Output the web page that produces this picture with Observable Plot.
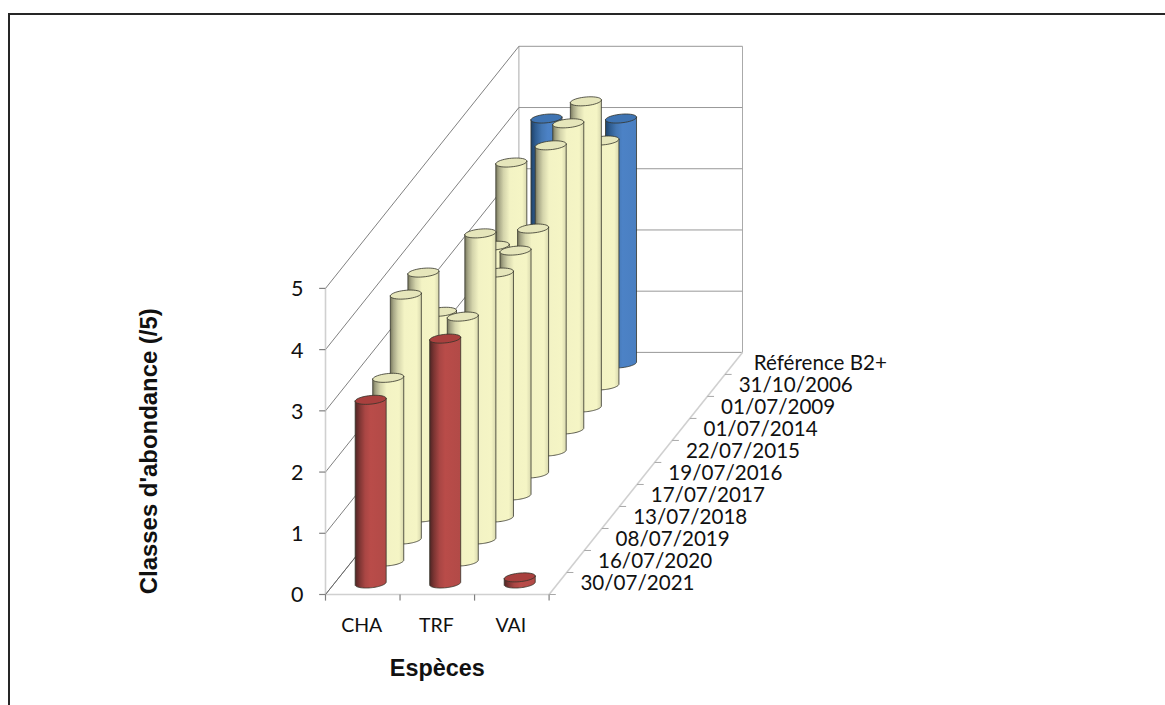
<!DOCTYPE html>
<html lang="fr">
<head>
<meta charset="utf-8">
<title>Classes d'abondance</title>
<script src="https://cdn.jsdelivr.net/npm/d3@7"></script>
<script src="https://cdn.jsdelivr.net/npm/@observablehq/plot@0.6"></script>
<style>
  html, body { margin: 0; padding: 0; background: #fff; overflow: hidden; }
  #chart { position: relative; width: 1165px; height: 705px; overflow: hidden; }
  #chart svg { display: block; position: absolute; left: 0; top: 0; background: transparent; }
  #border { position: absolute; left: 8px; top: 13px; width: 1300px; height: 900px; border: 2px solid #262626; box-sizing: border-box; }
</style>
</head>
<body>
<div id="chart"><div id="border"></div></div>
<script>
const species = ["CHA", "TRF", "VAI"];
// front row first
const dates = ["30/07/2021", "16/07/2020", "08/07/2019", "13/07/2018", "17/07/2017", "19/07/2016",
               "22/07/2015", "01/07/2014", "01/07/2009", "31/10/2006", "Référence B2+"];
const chaValues = [3, 3, 4, 4, 3, 0, 0, 3, 4, 0, 4];
const trfValues = [4, 4, 5, 4, 4, 4, 5, 5, 5, 4, 4];
const vaiValues = [0.1, 0, 0, 0, 0, 0, 0, 0, 0, 0, 0];
const valueTicks = [0, 1, 2, 3, 4, 5];

// Oblique projection: one depth step expressed in species units and in value units
const depthX = 0.2359, depthY = 0.3595;
const nD = dates.length, nS = species.length;
const X = (s, d) => s + d * depthX;
const Y = (v, d) => v + d * depthY;

// Ellipse axes of a cylinder cap, in scale units
const ax = 0.208, ay = 0.021, bx = 0.006, by = 0.071;
const gap = 0.488;
const STEPS = 40;
function capPoint(cx, cy, t) {
  return {x: cx + ax * Math.cos(t) + bx * Math.sin(t), y: cy + ay * Math.cos(t) + by * Math.sin(t)};
}
function capRing(s, d, v) {
  const cx = X(s + gap, d + 0.5), cy = Y(v, d + 0.5);
  return d3.range(STEPS + 1).map(i => capPoint(cx, cy, (i / STEPS) * 2 * Math.PI));
}
function body(s, d, v) {
  const cx = X(s + gap, d + 0.5), y0 = Y(0, d + 0.5), y1 = Y(v, d + 0.5);
  const pts = [capPoint(cx, y1, Math.PI)];
  // lower half of base ellipse from left to right
  for (let i = 0; i <= STEPS; i++) pts.push(capPoint(cx, y0, Math.PI + (i / STEPS) * Math.PI));
  pts.push(capPoint(cx, y1, 2 * Math.PI));
  pts.push(pts[0]);
  return pts;
}

const palette = {
  y: {stops: [[0, "#77775c"], [0.1, "#a6a686"], [0.25, "#d4d4ab"], [0.45, "#f3f3c4"], [0.85, "#f5f5c5"], [1, "#d8d8ae"]], cap: "#e6e6bb"},
  b: {stops: [[0, "#1f4269"], [0.15, "#2f5d91"], [0.35, "#4477b3"], [0.55, "#4c82c6"], [1, "#4a7fc1"]], cap: "#3f74b3"},
  r: {stops: [[0, "#4f2524"], [0.14, "#7d3533"], [0.32, "#a94644"], [0.5, "#b94c49"], [1, "#b24a47"]], cap: "#a9403e"}
};
const defs = () => {
  const g = d3.create("svg:defs");
  for (const [k, p] of Object.entries(palette)) {
    const lg = g.append("linearGradient").attr("id", "grad-" + k).attr("x1", 0).attr("x2", 1).attr("y1", 0).attr("y2", 0);
    for (const [o, c] of p.stops) lg.append("stop").attr("offset", o).attr("stop-color", c);
  }
  return g.node();
};

const colourOf = d => d === nD - 1 ? "b" : d === 0 ? "r" : "y";
const columns = [chaValues, trfValues, vaiValues];
const cylinders = [];
for (let d = nD - 1; d >= 0; d--)
  for (let s = 0; s < nS; s++)
    if (columns[s][d] > 0) cylinders.push({s, d, v: columns[s][d], k: colourOf(d)});

const edge = "#33332a";
const cylMarks = cylinders.flatMap(c => [
  Plot.line(body(c.s, c.d, c.v), {x: "x", y: "y", fill: `url(#grad-${c.k})`, stroke: edge, strokeWidth: 0.8}),
  Plot.line(capRing(c.s, c.d, c.v), {x: "x", y: "y", fill: palette[c.k].cap, stroke: edge, strokeWidth: 0.8})
]);

// Walls and floor
const gridColor = "#8c8c8c", axisColor = "#d0d0d0", wallDark = "#5f5f5f";
const backGrid = valueTicks.map(v => ({x1: X(0, nD), x2: X(nS, nD), y1: Y(v, nD), y2: Y(v, nD), v}));
const sideGrid = valueTicks.map(v => ({x1: X(0, 0), x2: X(0, nD), y1: Y(v, 0), y2: Y(v, nD)}));
const walls = [
  {x1: X(0, nD), x2: X(0, nD), y1: Y(0, nD), y2: Y(5, nD)},
  {x1: X(nS, nD), x2: X(nS, nD), y1: Y(0, nD), y2: Y(5, nD)}
];
const frontAxes = [
  {x1: X(0, 0), x2: X(0, 0), y1: Y(0, 0), y2: Y(5, 0)},
  {x1: X(0, 0), x2: X(nS, 0), y1: Y(0, 0), y2: Y(0, 0)},
  {x1: X(nS, 0), x2: X(nS, nD), y1: Y(0, 0), y2: Y(0, nD)}
];
const xTickLen = 0.085, yTickLen = 0.1, dTickLen = 0.09;
const valueTickSegs = valueTicks.map(v => ({x1: X(0, 0) - xTickLen, x2: X(0, 0), y1: v, y2: v}));
const speciesTickSegs = d3.range(nS + 1).map(s => ({x1: s, x2: s, y1: 0, y2: -yTickLen}));
const depthTickSegs = d3.range(nD).map(d => ({x1: X(nS, d), x2: X(nS, d) + dTickLen, y1: Y(0, d), y2: Y(0, d)}));

const seg = (data, stroke, strokeWidth) => Plot.link(data, {x1: "x1", x2: "x2", y1: "y1", y2: "y2", stroke, strokeWidth, markerEnd: "none"});
const labelFont = "Lato, sans-serif", titleFont = "'Liberation Sans', Arial, sans-serif";
const dateRows = dates.map((label, i) => ({label, i}));

const plot = Plot.plot({
  width: 1165, height: 705,
  margin: 0,
  x: {type: "linear", domain: [0, X(nS, nD)], range: [325, 742], axis: null},
  y: {type: "linear", domain: [0, Y(5, nD)], range: [594, 45.8], axis: null},
  style: {background: "transparent"},
  marks: [
    defs,
    seg(backGrid, gridColor, 0.9),
    seg(walls, "#a0a0a0", 0.9),
    seg(sideGrid, wallDark, 0.8),
    seg(frontAxes, axisColor, 1.6),
    seg([{x1: X(0, 0), x2: X(0, nD), y1: Y(0, 0), y2: Y(0, nD)}], wallDark, 0.8),
    seg(valueTickSegs, "#808080", 1.2),
    seg(speciesTickSegs, "#808080", 1.2),
    seg(depthTickSegs, "#a8a8a8", 1),
    ...cylMarks,
    Plot.text(valueTicks, {x: X(0, 0), y: d => d, text: d => String(d), dx: -22, dy: 1, textAnchor: "end", fontFamily: labelFont, fontSize: 21.5, fill: "#111"}),
    Plot.text(species, {x: (d, i) => i + 0.5, y: 0, text: d => d, dx: -1, dy: 31, textAnchor: "middle", fontFamily: labelFont, fontSize: 19.5, fill: "#111"}),
    Plot.text(dateRows.slice(0, -1), {x: d => X(nS, d.i + 0.5), y: d => Y(0, d.i + 0.5), text: "label", dx: 22.5, textAnchor: "start", fontFamily: labelFont, fontSize: 20.6, fill: "#111"}),
    Plot.text(dateRows.slice(-1), {x: d => X(nS, d.i + 0.5), y: d => Y(0, d.i + 0.5), text: "label", dx: 20, textAnchor: "start", fontFamily: labelFont, fontSize: 20.6, fill: "#111"}),
    Plot.text(["Espèces"], {x: 1.5, y: 0, text: d => d, dy: 74, textAnchor: "middle", fontFamily: titleFont, fontWeight: "bold", fontSize: 23.4, fill: "#111"}),
    Plot.text(["Classes d'abondance (/5)"], {x: X(0, 0), y: 2.34, text: d => d, dx: -176, rotate: -90, textAnchor: "middle", fontFamily: titleFont, fontWeight: "bold", fontSize: 23.9, fill: "#111"})
  ]
});
document.getElementById("chart").appendChild(plot);
</script>
</body>
</html>
